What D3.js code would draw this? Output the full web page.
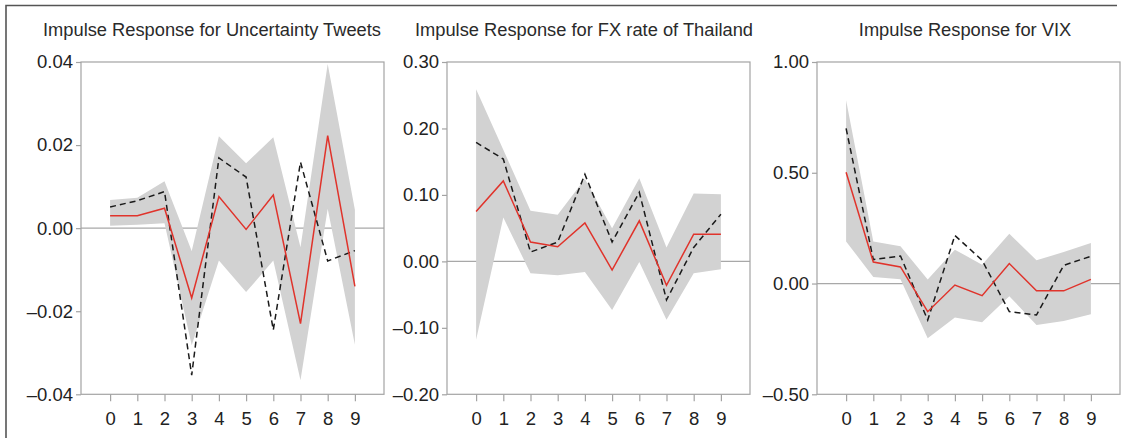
<!DOCTYPE html>
<html>
<head>
<meta charset="utf-8">
<script src="https://cdn.jsdelivr.net/npm/d3@7"></script>
<style>
  html, body { margin: 0; padding: 0; background: #fff; }
  svg { display: block; font-family: "Liberation Sans", Arial, sans-serif; }
</style>
</head>
<body>
<svg id="chart" width="1129" height="438"></svg>
<script>
// ---- data ----
const steps = [0, 1, 2, 3, 4, 5, 6, 7, 8, 9];

const titles = [
  "Impulse Response for Uncertainty Tweets",
  "Impulse Response for FX rate of Thailand",
  "Impulse Response for VIX"
];

// Panel 1: Uncertainty Tweets
const tweetsResponse = [0.0030, 0.0030, 0.0048, -0.0168, 0.0076, -0.0003, 0.0080, -0.0230, 0.0223, -0.0140];
const tweetsDashed   = [0.0051, 0.0066, 0.0088, -0.0354, 0.0169, 0.0123, -0.0245, 0.0159, -0.0079, -0.0054];
const tweetsUpper    = [0.0068, 0.0073, 0.0113, -0.0055, 0.0221, 0.0156, 0.0219, -0.0046, 0.0395, 0.0044];
const tweetsLower    = [0.0006, 0.0008, 0.0012, -0.0282, -0.0078, -0.0154, -0.0078, -0.0366, 0.0047, -0.0281];
const tweetsTicks    = [-0.04, -0.02, 0.00, 0.02, 0.04];

// Panel 2: FX rate of Thailand
const fxResponse = [0.075, 0.121, 0.029, 0.022, 0.058, -0.013, 0.061, -0.036, 0.041, 0.041];
const fxDashed   = [0.179, 0.154, 0.014, 0.029, 0.131, 0.029, 0.104, -0.058, 0.021, 0.071];
const fxUpper    = [0.259, 0.168, 0.076, 0.070, 0.124, 0.050, 0.125, 0.021, 0.102, 0.101];
const fxLower    = [-0.118, 0.066, -0.018, -0.021, -0.016, -0.073, -0.001, -0.088, -0.018, -0.012];
const fxTicks    = [-0.20, -0.10, 0.00, 0.10, 0.20, 0.30];

// Panel 3: VIX
const vixResponse = [0.502, 0.097, 0.075, -0.127, -0.007, -0.055, 0.090, -0.033, -0.033, 0.019];
const vixDashed   = [0.700, 0.108, 0.124, -0.165, 0.217, 0.105, -0.127, -0.142, 0.082, 0.123];
const vixUpper    = [0.827, 0.190, 0.168, 0.018, 0.153, 0.085, 0.225, 0.105, 0.142, 0.183];
const vixLower    = [0.190, 0.030, 0.019, -0.247, -0.153, -0.175, -0.057, -0.187, -0.169, -0.139];
const vixTicks    = [-0.50, 0.00, 0.50, 1.00];

// ---- layout ----
const panels = [
  { title: titles[0], resp: tweetsResponse, dash: tweetsDashed, up: tweetsUpper, lo: tweetsLower, ticks: tweetsTicks, left: 81,  titleX: 212 },
  { title: titles[1], resp: fxResponse,     dash: fxDashed,     up: fxUpper,     lo: fxLower,     ticks: fxTicks,     left: 447, titleX: 584 },
  { title: titles[2], resp: vixResponse,    dash: vixDashed,    up: vixUpper,    lo: vixLower,    ticks: vixTicks,    left: 817, titleX: 965 }
];
const plotW = 303, plotTop = 62, plotBottom = 394.3;

const svg = d3.select("#chart");

// outer border (top + left only, as in the cropped figure)
svg.append("path")
  .attr("d", "M6,438 V5.5 H1117")
  .attr("fill", "none")
  .attr("stroke", "#555")
  .attr("stroke-width", 1.6);

const fmt = v => d3.format(".2f")(v).replace("-", "\u2013").replace("\u2212", "\u2013");

panels.forEach(p => {
  const g = svg.append("g");
  const x = d3.scalePoint().domain(steps).range([p.left, p.left + plotW]).padding(1.07);
  const ext = d3.extent(p.ticks);
  const y = d3.scaleLinear().domain(ext).range([plotBottom, plotTop]);

  // zero line
  g.append("line")
    .attr("x1", p.left).attr("x2", p.left + plotW)
    .attr("y1", y(0)).attr("y2", y(0))
    .attr("stroke", "#a8a8a8").attr("stroke-width", 1.2);

  // confidence band
  const area = d3.area()
    .x((d, i) => x(steps[i]))
    .y0((d, i) => y(p.lo[i]))
    .y1((d, i) => y(p.up[i]));
  g.append("path")
    .attr("d", area(steps))
    .attr("fill", "#d2d2d2");

  // dashed line
  const lineOf = arr => d3.line().x((d, i) => x(steps[i])).y((d, i) => y(arr[i]))(steps);
  g.append("path")
    .attr("d", lineOf(p.dash))
    .attr("fill", "none")
    .attr("stroke", "#1a1a1a")
    .attr("stroke-width", 1.5)
    .attr("stroke-dasharray", "6,4");

  // response line
  g.append("path")
    .attr("d", lineOf(p.resp))
    .attr("fill", "none")
    .attr("stroke", "#e0332b")
    .attr("stroke-width", 1.5);

  // frame
  g.append("rect")
    .attr("x", p.left).attr("y", plotTop)
    .attr("width", plotW).attr("height", plotBottom - plotTop)
    .attr("fill", "none")
    .attr("stroke", "#a3a3a3").attr("stroke-width", 1.2);

  // y axis
  const ya = g.append("g")
    .attr("transform", `translate(${p.left},0)`)
    .call(d3.axisLeft(y).tickValues(p.ticks).tickSize(5).tickPadding(3).tickFormat(fmt));
  ya.select(".domain").remove();
  ya.selectAll(".tick line").attr("stroke", "#a3a3a3").attr("stroke-width", 1.2);
  ya.selectAll(".tick text")
    .attr("fill", "#222")
    .style("font-size", "18.5px")
    .style("font-family", "'Liberation Sans', Arial, sans-serif");

  // x axis
  const xa = g.append("g")
    .attr("transform", `translate(0,${plotBottom})`)
    .call(d3.axisBottom(x).tickSize(7).tickPadding(10.5));
  xa.select(".domain").remove();
  xa.selectAll(".tick line").attr("stroke", "#a3a3a3").attr("stroke-width", 1.2);
  xa.selectAll(".tick text")
    .attr("fill", "#222")
    .style("font-size", "18.5px")
    .style("font-family", "'Liberation Sans', Arial, sans-serif");

  // title
  g.append("text")
    .attr("x", p.titleX).attr("y", 36)
    .attr("text-anchor", "middle")
    .attr("fill", "#2a2a2a")
    .style("font-size", "18.3px")
    .text(p.title);
});
</script>
</body>
</html>
